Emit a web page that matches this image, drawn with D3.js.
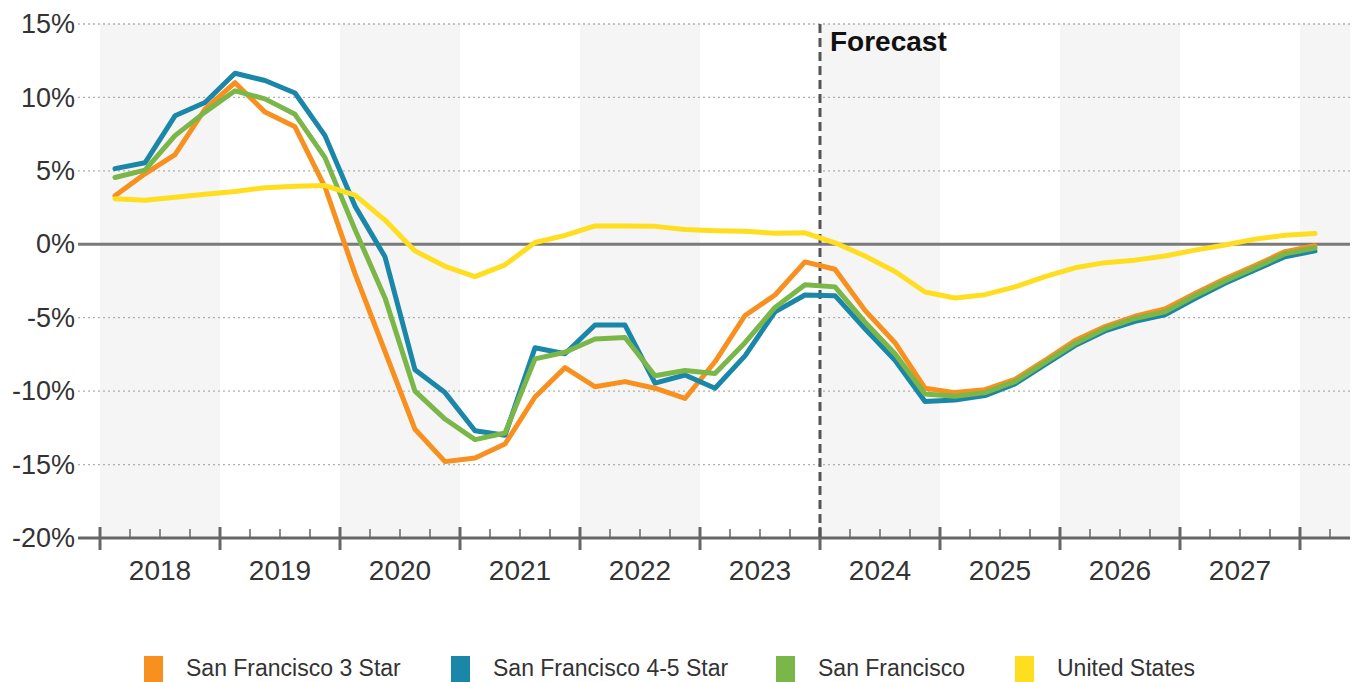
<!DOCTYPE html>
<html>
<head>
<meta charset="utf-8">
<script src="https://cdn.jsdelivr.net/npm/d3@7"></script>
<style>
  html, body { margin: 0; padding: 0; background: #fff; }
  svg { display: block; font-family: "Liberation Sans", Arial, Helvetica, sans-serif; }
</style>
</head>
<body>
<svg id="chart" width="1356" height="682"></svg>
<script>
// Quarterly year-over-year change, 2018 Q1 through 2028 Q1
const years = [2018, 2019, 2020, 2021, 2022, 2023, 2024, 2025, 2026, 2027];
const yTicks = [15, 10, 5, 0, -5, -10, -15, -20];
const forecastStartYear = 2024;

const sf3Star = [
  3.3, 4.8, 6.1, 9.2, 11.0, 9.0, 8.0, 3.9, -2.0, -7.3,
  -12.6, -14.8, -14.55, -13.6, -10.4, -8.4, -9.7, -9.35, -9.8, -10.5,
  -8.0, -4.85, -3.45, -1.2, -1.7, -4.5, -6.7, -9.8, -10.1, -9.9,
  -9.2, -7.9, -6.55, -5.6, -4.9, -4.4, -3.35, -2.35, -1.45, -0.5, -0.1
];
const sf45Star = [
  5.15, 5.55, 8.75, 9.65, 11.65, 11.15, 10.3, 7.4, 2.6, -0.85,
  -8.55, -10.1, -12.7, -13.0, -7.05, -7.45, -5.5, -5.5, -9.45, -8.9,
  -9.8, -7.6, -4.6, -3.45, -3.5, -5.75, -7.9, -10.7, -10.6, -10.3,
  -9.5, -8.2, -6.9, -5.9, -5.25, -4.8, -3.7, -2.65, -1.75, -0.85, -0.45
];
const sanFrancisco = [
  4.55, 5.05, 7.4, 9.0, 10.45, 9.9, 8.85, 5.9, 1.0, -3.65,
  -10.0, -11.9, -13.3, -12.85, -7.8, -7.35, -6.45, -6.35, -8.95, -8.6,
  -8.8, -6.7, -4.3, -2.75, -2.9, -5.3, -7.45, -10.2, -10.35, -10.1,
  -9.35, -8.05, -6.75, -5.75, -5.05, -4.6, -3.5, -2.5, -1.6, -0.65, -0.25
];
const unitedStates = [
  3.1, 3.0, 3.2, 3.4, 3.6, 3.85, 3.95, 4.0, 3.35, 1.65,
  -0.45, -1.5, -2.2, -1.4, 0.12, 0.61, 1.25, 1.25, 1.22, 1.0,
  0.92, 0.88, 0.75, 0.78, 0.1, -0.8, -1.85, -3.25, -3.66, -3.43,
  -2.9, -2.2, -1.6, -1.25, -1.08, -0.8, -0.4, -0.05, 0.35, 0.62, 0.73
];

const series = [
  { name: "San Francisco 3 Star",   values: sf3Star,      color: "#F7901E" },
  { name: "San Francisco 4-5 Star", values: sf45Star,     color: "#1B87A8" },
  { name: "San Francisco",          values: sanFrancisco, color: "#7AB648" },
  { name: "United States",          values: unitedStates, color: "#FFDD1F" }
];

const svg = d3.select("#chart");
const plotLeft = 100, plotRight = 1350, plotTop = 24, plotBottom = 538;
const firstYear = years[0];

// x measured in quarters since the start of the first year
const x = d3.scaleLinear().domain([0, 41.667]).range([plotLeft, plotRight]);
const y = d3.scaleLinear().domain([-20, 15]).range([plotBottom, plotTop]);

// alternating year bands
const bandYears = d3.range(firstYear, 2029).filter((yr, i) => i % 2 === 0);
svg.append("g").selectAll("rect").data(bandYears).join("rect")
  .attr("x", d => x((d - firstYear) * 4))
  .attr("width", d => Math.min(x((d - firstYear + 1) * 4), plotRight) - x((d - firstYear) * 4))
  .attr("y", plotTop).attr("height", plotBottom - plotTop)
  .attr("fill", "#f5f5f5");

// horizontal gridlines
svg.append("g").selectAll("line").data(yTicks.filter(t => t !== 0 && t !== -20)).join("line")
  .attr("x1", 78).attr("x2", plotRight)
  .attr("y1", d => y(d)).attr("y2", d => y(d))
  .attr("stroke", "#b0b0b0").attr("stroke-width", 1.3)
  .attr("stroke-dasharray", "2,3");

// y axis labels
const yAxis = d3.axisLeft(y).tickValues(yTicks).tickSize(0).tickPadding(0)
  .tickFormat(d => d + "%");
svg.append("g").attr("transform", "translate(75,0)").call(yAxis)
  .call(g => g.select(".domain").remove())
  .call(g => g.selectAll("text")
    .attr("font-size", 27).attr("fill", "#333")
    .attr("font-family", "'Liberation Sans', Arial, sans-serif"));

// zero line
svg.append("line")
  .attr("x1", 78).attr("x2", plotRight)
  .attr("y1", y(0)).attr("y2", y(0))
  .attr("stroke", "#7a7a7a").attr("stroke-width", 3);

// bottom axis with quarter and year ticks
const minorQ = d3.range(0, 42).filter(q => q % 4 !== 0);
const majorQ = d3.range(0, 42, 4);
const axisG = svg.append("g");
axisG.append("line")
  .attr("x1", 78).attr("x2", plotRight)
  .attr("y1", plotBottom).attr("y2", plotBottom)
  .attr("stroke", "#666").attr("stroke-width", 3);
axisG.selectAll("line.minor").data(minorQ).join("line").attr("class", "minor")
  .attr("x1", d => x(d)).attr("x2", d => x(d))
  .attr("y1", plotBottom - 9).attr("y2", plotBottom)
  .attr("stroke", "#666").attr("stroke-width", 1.5);
axisG.selectAll("line.major").data(majorQ).join("line").attr("class", "major")
  .attr("x1", d => x(d)).attr("x2", d => x(d))
  .attr("y1", plotBottom - 11).attr("y2", plotBottom + 12)
  .attr("stroke", "#666").attr("stroke-width", 3);
axisG.selectAll("text").data(years).join("text")
  .attr("x", d => x((d - firstYear) * 4 + 2))
  .attr("y", 580)
  .attr("text-anchor", "middle")
  .attr("font-size", 28).attr("fill", "#333")
  .text(d => d);

// forecast divider
const fx = x((forecastStartYear - firstYear) * 4);
svg.append("line")
  .attr("x1", fx).attr("x2", fx)
  .attr("y1", plotTop).attr("y2", plotBottom)
  .attr("stroke", "#555").attr("stroke-width", 3)
  .attr("stroke-dasharray", "9,5");
svg.append("text")
  .attr("x", fx + 10).attr("y", 51)
  .attr("font-size", 28).attr("font-weight", "bold").attr("fill", "#111")
  .text("Forecast");

// series lines, plotted at the middle of each quarter
const line = d3.line()
  .x((d, i) => x(i + 0.5))
  .y(d => y(d));
svg.append("g").selectAll("path").data(series).join("path")
  .attr("d", d => line(d.values))
  .attr("fill", "none")
  .attr("stroke", d => d.color)
  .attr("stroke-width", 5)
  .attr("stroke-linejoin", "round")
  .attr("stroke-linecap", "round");

// legend
const legendX = [144, 451, 776, 1015];
const legend = svg.append("g").selectAll("g").data(series).join("g")
  .attr("transform", (d, i) => `translate(${legendX[i]},656)`);
legend.append("rect")
  .attr("width", 19).attr("height", 26)
  .attr("fill", d => d.color);
legend.append("text")
  .attr("x", 42).attr("y", 20)
  .attr("font-size", 23).attr("fill", "#333")
  .text(d => d.name);
</script>
</body>
</html>
